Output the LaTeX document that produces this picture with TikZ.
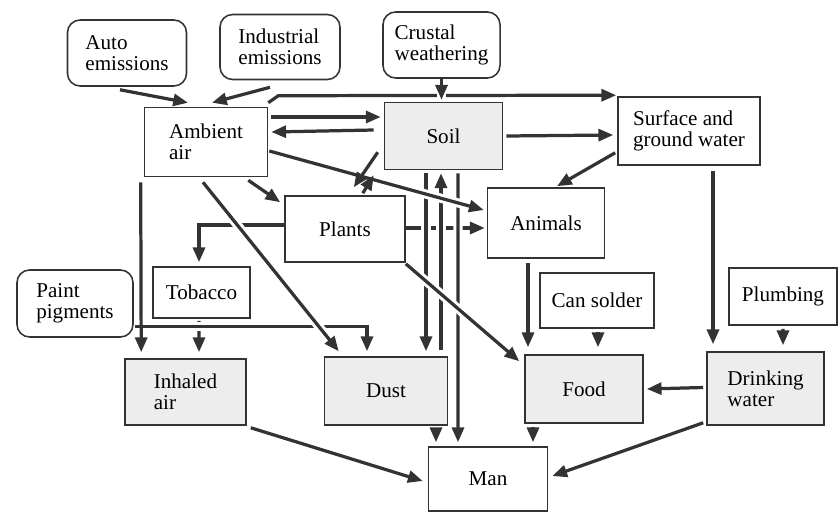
\documentclass[tikz,border=0pt]{standalone}
\usepackage{fontspec}
\setmainfont{Liberation Serif}
\usetikzlibrary{positioning,arrows.meta,calc}
\definecolor{ink}{HTML}{333333}

\begin{document}
\begin{tikzpicture}[
    x=0.025cm, y=-0.025cm,
    font=\fontsize{15}{15}\selectfont,
    box/.style={draw=ink, line width=1.1pt, rectangle, inner sep=2pt, align=left},
    src/.style={box, rounded corners=9pt},
    tint/.style={box, fill=black!7},
    edge/.style={-{Triangle[length=10.5pt,width=8.5pt]}, line width=2.3pt, draw=ink},
    bridge/.style={preaction={draw=white, line width=6.5pt, -}}
]
\useasboundingbox (0,0) rectangle (840,513);

\node[src, minimum width=2.975cm, minimum height=1.65cm] (auto) at (127,53) {Auto\\emissions};
\node[src, minimum width=3cm, minimum height=1.625cm] (ind) at (280,47) {Industrial\\emissions};
\node[src, minimum width=2.925cm, minimum height=1.65cm] (crust) at (441.5,45) {Crustal\\weathering};
\node[box, minimum width=3.075cm, minimum height=1.725cm] (air) at (206,142) {Ambient\\air};
\node[tint, minimum width=2.95cm, minimum height=1.675cm] (soil) at (443.5,136) {Soil};
\node[box, minimum width=3.55cm, minimum height=1.7cm] (water) at (689,131) {Surface and\\ground water};
\node[box, minimum width=3cm, minimum height=1.65cm] (plants) at (345,229) {Plants};
\node[box, minimum width=2.925cm, minimum height=1.75cm] (animals) at (546,223) {Animals};
\node[box, minimum width=2.425cm, minimum height=1.275cm] (tobacco) at (201.5,292.5) {Tobacco};
\node[src, minimum width=2.9cm, minimum height=1.675cm] (paint) at (75,303.5) {Paint\\pigments};
\node[box, minimum width=2.85cm, minimum height=1.375cm] (solder) at (597,300.5) {Can solder};
\node[box, minimum width=2.7cm, minimum height=1.425cm] (plumbing) at (783,296.5) {Plumbing};
\node[tint, minimum width=3.025cm, minimum height=1.65cm] (inhaled) at (185.5,392) {Inhaled\\air};
\node[tint, minimum width=3.075cm, minimum height=1.7cm] (dust) at (386,391) {Dust};
\node[tint, minimum width=2.95cm, minimum height=1.7cm] (food) at (584,389) {Food};
\node[tint, minimum width=2.925cm, minimum height=1.825cm] (drink) at (765.5,388.5) {Drinking\\water};
\node[box, minimum width=2.975cm, minimum height=1.6cm] (man) at (488,479) {Man};

\draw[edge] ($(auto.south)+(-7,3)$) -- ($(air.north)+(-18,-4)$);
\draw[edge] ($(ind.south)+(-10,7)$) -- ($(air.north)+(6,-4)$);
\draw[edge] ($(air.north east)+(0,-4)$) -- ++(10,-7) -- ($(water.north west)+(-1,-1)$);
\draw[edge, bridge] (crust.south) -- ($(soil.north)+(-2,-2)$);
\draw[edge] ($(air.east)+(3,-25)$) -- ($(soil.west)+(-3,-19)$);
\draw[edge] ($(soil.west)+(-10,-6)$) -- ($(air.east)+(3,-10)$);
\draw[edge] ($(soil.east)+(3,0)$) -- ($(water.west)+(-4,4)$);
\draw[edge] ($(water.south west)+(-2,-13)$) -- ($(animals.north)+(11,-1)$);
\draw[edge] ($(air.south east)+(-20,3)$) -- ($(plants.north west)+(-4,7)$);
\draw[edge] ($(plants.west)+(0,-4)$) -| ($(tobacco.north)+(-2.5,-4)$);
\draw[edge] ($(tobacco.south)+(-2.5,2)$) -- ($(inhaled.north)+(13.5,-6)$);
\draw[edge, bridge] ($(paint.east)+(1,23)$) -| ($(dust.north)+(-19,-5)$);
\draw[edge] ($(air.south west)+(-3,5)$) -- ($(inhaled.north west)+(17,-6)$);
\draw[edge, bridge] ($(air.south)+(-3,5)$) -- ($(dust.north west)+(15,-5)$);

\draw[edge] ($(plants.east)+(0,-1)$) -- ($(animals.west)+(-2,5)$);
\draw[edge, bridge] ($(soil.south)+(-17.5,3)$) -- ($(dust.north)+(40,-5)$);
\draw[edge, bridge] ($(dust.north)+(55,-6)$) -- ($(soil.south)+(-2.5,3)$);
\draw[edge, bridge] ($(soil.south)+(14.5,3)$) -- ($(man.north)+(-30,-4)$);
\draw[edge, bridge] ($(air.east)+(1,9)$) -- ($(animals.west)+(-3,-13)$);
\draw[edge, bridge] ($(plants.south east)+(0,1)$) -- ($(food.north west)+(-5,7)$);
\draw[edge] ($(soil.south west)+(-6,-18)$) -- ($(plants.north east)+(-52,-8)$);
\draw[edge] ($(plants.north east)+(-43,-2)$) -- ($(soil.south west)+(-10,5)$);

\draw[edge] ($(animals.south)+(-18,4)$) -- ($(food.north)+(-56,-7)$);
\draw[edge] ($(solder.south)+(1,3)$) -- ($(food.north)+(14,-7)$);
\draw[edge] ($(water.south)+(24,5)$) -- ($(drink.north)+(-52.5,-7)$);
\draw[edge] ($(plumbing.south)+(0,3)$) -- ($(drink.north)+(17.5,-6)$);
\draw[edge] ($(drink.west)+(-3,-1)$) -- ($(food.east)+(3,0)$);
\draw[edge] ($(inhaled.south east)+(4,2)$) -- ($(man.west)+(-5,2)$);
\draw[edge] ($(drink.south west)+(-3,-3)$) -- ($(man.east)+(4,-3)$);
\draw[edge] ($(dust.south)+(50,3)$) -- ($(man.north)+(-52,-4)$);
\draw[edge] ($(food.south)+(-51,3)$) -- ($(man.north)+(45,-4)$);
\end{tikzpicture}
\end{document}
